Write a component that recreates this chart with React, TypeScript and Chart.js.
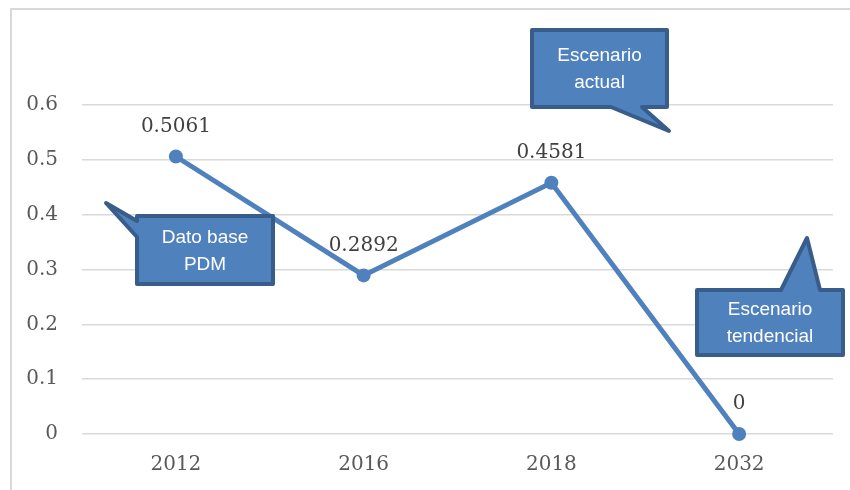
import React, { useEffect, useRef } from "react";
import { Chart, registerables } from "chart.js";

Chart.register(...registerables);

const categories = ["2012", "2016", "2018", "2032"];
const values = [0.5061, 0.2892, 0.4581, 0];
const valueLabels = ["0.5061", "0.2892", "0.4581", "0"];
const yMax = 0.6;
const yStep = 0.1;

type Callout = {
  lines: string[];
  box: [number, number, number, number]; // x1, y1, x2, y2
  tail: [number, number][]; // base1, tip, base2 (base points on box edge)
  edge: "top" | "bottom" | "left";
};

const callouts: Callout[] = [
  {
    lines: ["Escenario", "actual"],
    box: [532, 30, 667, 107],
    tail: [[611, 107], [669, 131], [642, 107]],
    edge: "bottom",
  },
  {
    lines: ["Dato base", "PDM"],
    box: [137, 216, 273, 284],
    tail: [[137, 221], [106, 203], [137, 237]],
    edge: "left",
  },
  {
    lines: ["Escenario", "tendencial"],
    box: [697, 290, 843, 355],
    tail: [[781, 290], [807, 238], [820, 290]],
    edge: "top",
  },
];

const SERIF = "'DejaVu Serif', serif";
const SANS = "'Liberation Sans', Arial, sans-serif";

const decorPlugin = {
  id: "decor",
  beforeDraw(chart: any) {
    const ctx = chart.ctx;
    ctx.save();
    ctx.fillStyle = "#ffffff";
    ctx.fillRect(0, 0, chart.width, chart.height);
    ctx.strokeStyle = "#d9d9d9";
    ctx.lineWidth = 2;
    ctx.strokeRect(11, 9, chart.width + 20, chart.height + 20);
    ctx.restore();
  },
  afterDatasetsDraw(chart: any) {
    const ctx = chart.ctx;
    const meta = chart.getDatasetMeta(0);
    ctx.save();
    ctx.font = `20px ${SERIF}`;
    ctx.fillStyle = "#404040";
    ctx.textAlign = "center";
    ctx.textBaseline = "middle";
    meta.data.forEach((pt: any, i: number) => {
      ctx.fillText(valueLabels[i], pt.x, pt.y - 30);
    });
    ctx.restore();
  },
  afterDraw(chart: any) {
    const ctx = chart.ctx;
    ctx.save();
    callouts.forEach((c) => {
      const [x1, y1, x2, y2] = c.box;
      const [b1, tip, b2] = c.tail;
      ctx.beginPath();
      if (c.edge === "bottom") {
        ctx.moveTo(x1, y1);
        ctx.lineTo(x2, y1);
        ctx.lineTo(x2, y2);
        ctx.lineTo(b2[0], b2[1]);
        ctx.lineTo(tip[0], tip[1]);
        ctx.lineTo(b1[0], b1[1]);
        ctx.lineTo(x1, y2);
      } else if (c.edge === "left") {
        ctx.moveTo(x1, y1);
        ctx.lineTo(x2, y1);
        ctx.lineTo(x2, y2);
        ctx.lineTo(x1, y2);
        ctx.lineTo(b2[0], b2[1]);
        ctx.lineTo(tip[0], tip[1]);
        ctx.lineTo(b1[0], b1[1]);
      } else {
        ctx.moveTo(x1, y1);
        ctx.lineTo(b1[0], b1[1]);
        ctx.lineTo(tip[0], tip[1]);
        ctx.lineTo(b2[0], b2[1]);
        ctx.lineTo(x2, y1);
        ctx.lineTo(x2, y2);
        ctx.lineTo(x1, y2);
      }
      ctx.closePath();
      ctx.fillStyle = "#4f81bd";
      ctx.fill();
      ctx.lineJoin = "round";
      ctx.lineWidth = 4;
      ctx.strokeStyle = "#385d8a";
      ctx.stroke();

      ctx.fillStyle = "#ffffff";
      ctx.font = `19px ${SANS}`;
      ctx.textAlign = "center";
      ctx.textBaseline = "middle";
      const cx = (x1 + x2) / 2;
      const cy = (y1 + y2) / 2;
      const lh = 27;
      c.lines.forEach((t, i) => {
        ctx.fillText(t, cx, cy + 1 + (i - (c.lines.length - 1) / 2) * lh);
      });
    });
    ctx.restore();
  },
};

export default function App() {
  const ref = useRef<HTMLCanvasElement | null>(null);

  useEffect(() => {
    document.body.style.margin = "0";
    if (!ref.current) return;
    const chart = new Chart(ref.current, {
      type: "line",
      data: {
        labels: categories,
        datasets: [
          {
            data: values,
            borderColor: "#4f81bd",
            backgroundColor: "#4f81bd",
            borderWidth: 5,
            pointRadius: 7,
            pointBorderWidth: 0,
            pointBackgroundColor: "#4f81bd",
            tension: 0,
            clip: false,
          },
        ],
      },
      options: {
        responsive: false,
        animation: false,
        devicePixelRatio: 1,
        layout: { padding: { left: 10, right: 17, top: 105, bottom: 0 } },
        plugins: {
          legend: { display: false },
          tooltip: { enabled: false },
        },
        scales: {
          x: {
            offset: true,
            grid: { display: false, drawTicks: false },
            border: { display: false },
            ticks: {
              color: "#595959",
              font: { family: SERIF, size: 20 },
              padding: 19,
            },
            afterFit: (s: any) => {
              s.height = 56;
            },
          },
          y: {
            min: 0,
            max: yMax,
            ticks: {
              stepSize: yStep,
              color: "#595959",
              font: { family: SERIF, size: 20 },
              padding: 24,
              callback: (v: any) => String(Math.round(Number(v) * 10) / 10),
            },
            grid: { color: "#d9d9d9", lineWidth: 1.5, drawTicks: false },
            border: { display: false },
            afterFit: (s: any) => {
              s.width = 72;
            },
          },
        },
      },
      plugins: [decorPlugin],
    });
    return () => chart.destroy();
  }, []);

  return (
    <div style={{ width: 850, height: 490 }}>
      <canvas ref={ref} width={850} height={490} style={{ display: "block" }} />
    </div>
  );
}
